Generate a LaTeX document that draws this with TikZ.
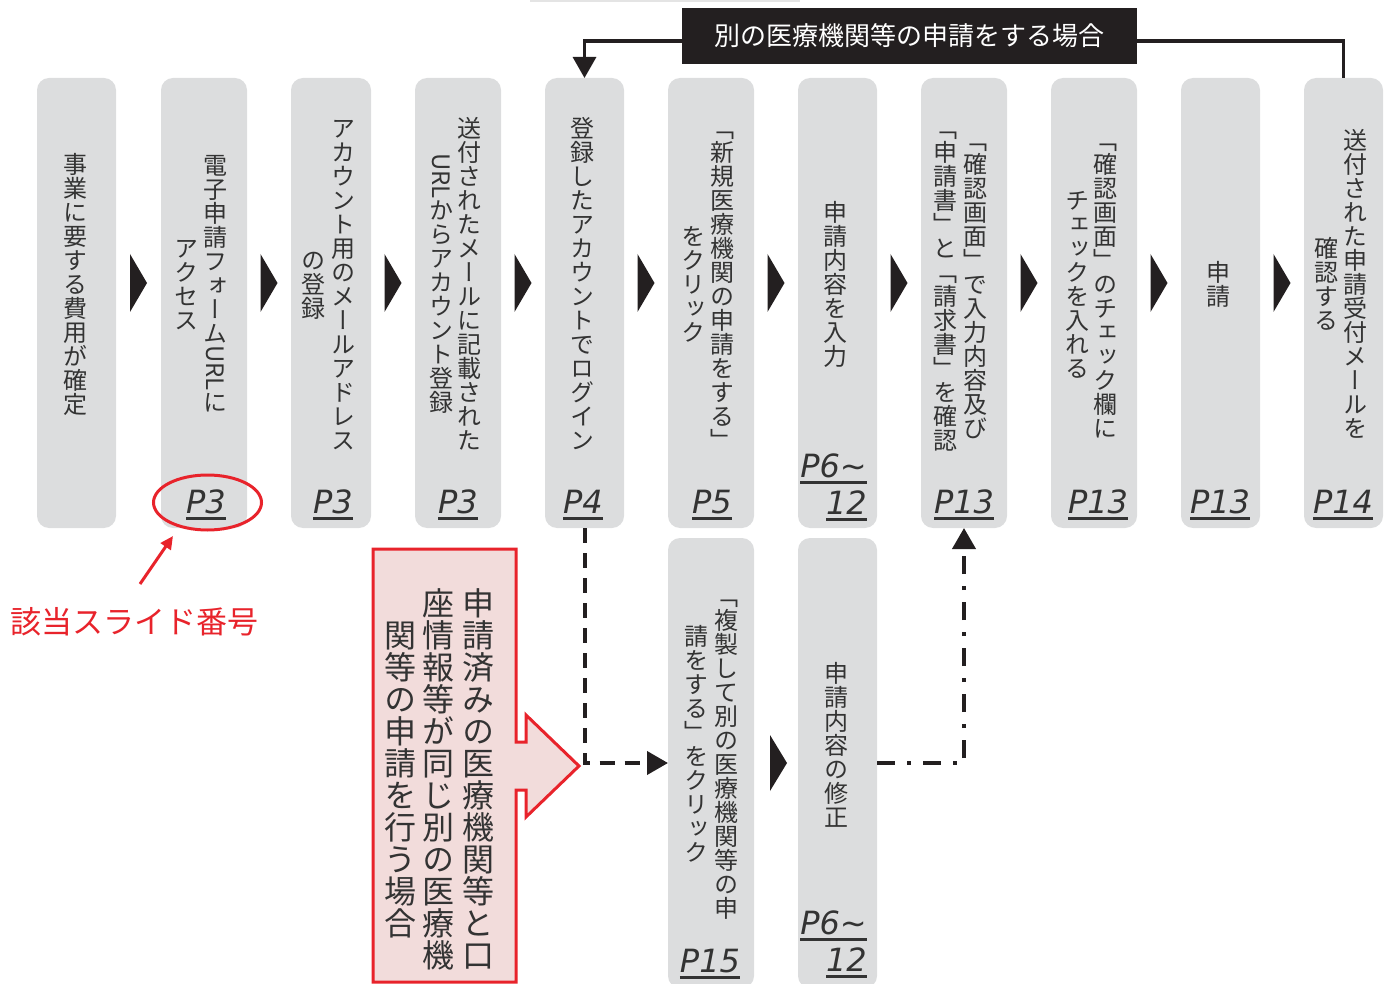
\documentclass[tikz,border=0pt]{standalone}
\usepackage{fontspec}
\usepackage{graphicx}
\usetikzlibrary{arrows.meta,shapes.geometric}
\newfontfamily\jpv{Noto Sans CJK JP}[RawFeature=+vert]
\newfontfamily\jph{Noto Sans CJK JP}
\newfontfamily\pfont{DejaVu Sans}
\definecolor{boxgray}{HTML}{DCDDDE}
\definecolor{txtgray}{HTML}{333333}
\definecolor{darktri}{HTML}{231F20}
\definecolor{myred}{HTML}{E8232B}
\definecolor{pinkfill}{HTML}{F2DCDB}
\definecolor{topline}{HTML}{E4E4E4}
\makeatletter
\newcommand\vtstop{\relax}
\newcommand\vturl{URL}
\newcommand\vcol[1]{\vbox{\offinterlineskip\vt@loop#1\vtstop}}
\def\vt@loop#1{\ifx#1\vtstop\else\vt@one{#1}\expandafter\vt@loop\fi}
\def\vt@one#1{\ifx#1\vturl\vt@urlbox\else\hbox to 1em{\hss\rule[-0.12em]{0pt}{1em}#1\hss}\fi}
\def\vt@urlbox{\hbox to 1em{\hss\rotatebox{-90}{\jph URL}\hss}}
\makeatother
\newcommand\pul[1]{\leavevmode\setbox0=\hbox{#1}\rlap{\rule[-7pt]{\wd0}{2.6pt}}\box0}
\newcommand\tildech{\textasciitilde}
\begin{document}
\begin{tikzpicture}[x=1pt,y=-1pt,
  gbox/.style={fill=boxgray, rounded corners=12pt, inner sep=0pt, outer sep=0pt},
  topbox/.style={gbox, minimum height=450pt},
  lowbox/.style={gbox, minimum height=450pt},
  coltext/.style={font=\jpv\fontsize{24}{24}\selectfont, text=txtgray, inner sep=0pt},
  redtext/.style={font=\jpv\fontsize{32}{32}\selectfont, text=txtgray, inner sep=0pt},
  plab/.style={font=\pfont\itshape\fontsize{32}{32}\selectfont, text=txtgray, inner sep=0pt},
  chevron/.style={fill=darktri},
  solidconn/.style={draw=darktri, line width=3.2pt},
  dashconn/.style={draw=darktri, line width=4pt, dash pattern=on 15pt off 10pt},
  dashdotconn/.style={draw=darktri, line width=4pt, dash pattern=on 18pt off 12pt on 4pt off 12pt},
  bigtip/.style={-{Triangle[length=21pt,width=23pt]}}
]
\useasboundingbox (0,0) rectangle (1387,984);
\clip (0,0) rectangle (1387,984);

\draw[topline, line width=2pt] (530,1) -- (800,1);

% top row boxes
\node[topbox, minimum width=79pt] (b1) at (76.5,303) {};
\node[topbox, minimum width=86pt] (b2) at (204,303) {};
\node[topbox, minimum width=80pt] (b3) at (331,303) {};
\node[topbox, minimum width=86pt] (b4) at (458,303) {};
\node[topbox, minimum width=79pt] (b5) at (584.5,303) {};
\node[topbox, minimum width=86pt] (b6) at (711,303) {};
\node[topbox, minimum width=79pt] (b7) at (837.5,303) {};
\node[topbox, minimum width=86pt] (b8) at (964,303) {};
\node[topbox, minimum width=86pt] (b9) at (1094,303) {};
\node[topbox, minimum width=79pt] (b10) at (1220.5,303) {};
\node[topbox, minimum width=79pt] (b11) at (1343.5,303) {};
% lower boxes
\node[lowbox, minimum width=86pt] (bA) at (711,763) {};
\node[lowbox, minimum width=79pt] (bB) at (837.5,763) {};

% texts top row
\node[coltext] (t1) at (75,284) {\vcol{事業に要する費用が確定}};
\node[coltext] (t2a) at (215,284) {\vcol{電子申請フォーム\vturl に}};
\node[coltext] (t2b) at (186,284) {\vcol{アクセス}};
\node[coltext] (t3a) at (343,284) {\vcol{アカウント用のメールアドレス}};
\node[coltext] (t3b) at (313,284) {\vcol{の登録}};
\node[coltext] (t4a) at (469,284) {\vcol{送付されたメールに記載された}};
\node[coltext] (t4b) at (441,284) {\vcol{\vturl からアカウント登録}};
\node[coltext] (t5) at (582,284) {\vcol{登録したアカウントでログイン}};
\node[coltext] (t6a) at (722,284) {\vcol{「新規医療機関の申請をする」}};
\node[coltext] (t6b) at (693,284) {\vcol{をクリック}};
\node[coltext] (t7) at (835,284) {\vcol{申請内容を入力}};
\node[coltext] (t8a) at (975,284) {\vcol{「確認画面」で入力内容及び}};
\node[coltext] (t8b) at (945,284) {\vcol{「申請書」と「請求書」を確認}};
\node[coltext] (t9a) at (1105,284) {\vcol{「確認画面」のチェック欄に}};
\node[coltext] (t9b) at (1077,284) {\vcol{チェックを入れる}};
\node[coltext] (t10) at (1218,284) {\vcol{申請}};
\node[coltext] (t11a) at (1355,284) {\vcol{送付された申請受付メールを}};
\node[coltext] (t11b) at (1326,284) {\vcol{確認する}};
% texts lower row
\node[coltext] (tAa) at (726,752) {\vcol{「複製して別の医療機関等の申}};
\node[coltext] (tAb) at (696,744) {\vcol{請をする」をクリック}};
\node[coltext] (tB) at (836,745) {\vcol{申請内容の修正}};

% page labels
\node[plab, anchor=base] (p2) at (206,513) {\pul{P3}};
\node[plab, anchor=base] (p3) at (333,513) {\pul{P3}};
\node[plab, anchor=base] (p4) at (458,513) {\pul{P3}};
\node[plab, anchor=base] (p5) at (583,513) {\pul{P4}};
\node[plab, anchor=base] (p6) at (712,513) {\pul{P5}};
\node[plab, anchor=base east] (p7a) at (867,477) {\pul{P6\tildech}};
\node[plab, anchor=base east] (p7b) at (867,514) {\pul{12}};
\node[plab, anchor=base] (p8) at (964,513) {\pul{P13}};
\node[plab, anchor=base] (p9) at (1098,513) {\pul{P13}};
\node[plab, anchor=base] (p10) at (1220,513) {\pul{P13}};
\node[plab, anchor=base] (p11) at (1343,513) {\pul{P14}};
\node[plab, anchor=base] (pA) at (710,972) {\pul{P15}};
\node[plab, anchor=base east] (pBa) at (867,934) {\pul{P6\tildech}};
\node[plab, anchor=base east] (pBb) at (867,971) {\pul{12}};

% chevrons between boxes
\foreach \cx in {138.5,269,393,523,646,776,899,1029,1159,1282}{
  \fill[chevron] (\cx-8.5,254) -- (\cx+8.5,283) -- (\cx-8.5,312) -- cycle;
}
\fill[chevron] (770,735) -- (787,763) -- (770,791) -- cycle;

% banner and loop connector
\node[fill=darktri, minimum width=455pt, minimum height=56pt, inner sep=0pt, text=white,
      font=\jph\fontsize{26}{26}\selectfont] (ban) at (909.5,36) {別の医療機関等の申請をする場合};
\draw[solidconn] (b11.north) |- ([yshift=-5pt]ban.east);
\draw[solidconn, bigtip] ([yshift=-5pt]ban.west) -| (b5.north);

% dashed connectors
\draw[dashconn, bigtip] (b5.south) |- (bA.west);
\draw[dashdotconn, bigtip] (bB.east) -| (b8.south);

% red callout
\filldraw[fill=pinkfill, draw=myred, line width=3pt, line join=miter]
  (373,549) -- (516,549) -- (516,742) -- (526,742) -- (526,715) -- (579,766)
  -- (526,817) -- (526,790) -- (516,790) -- (516,982) -- (373,982) -- cycle;
\node[redtext] (r1) at (478,779) {\vcol{申請済みの医療機関等と口}};
\node[redtext] (r2) at (438,779) {\vcol{座情報等が同じ別の医療機}};
\node[redtext] (r3) at (400,779) {\vcol{関等の申請を行う場合}};

% red annotation
\node[draw=myred, line width=3pt, ellipse, minimum width=108pt, minimum height=55pt, inner sep=0pt] (ell) at (207.5,502.5) {};
\node[font=\jph\fontsize{31}{31}\selectfont, text=myred, anchor=west, inner sep=0pt] (redlbl) at (10,622) {該当スライド番号};
\coordinate (rtail) at (140,584);
\coordinate (rtip) at (173,536);
\draw[myred, line width=3pt, -{Triangle[length=13pt,width=12pt]}] (rtail) -- (rtip);
\end{tikzpicture}
\end{document}
